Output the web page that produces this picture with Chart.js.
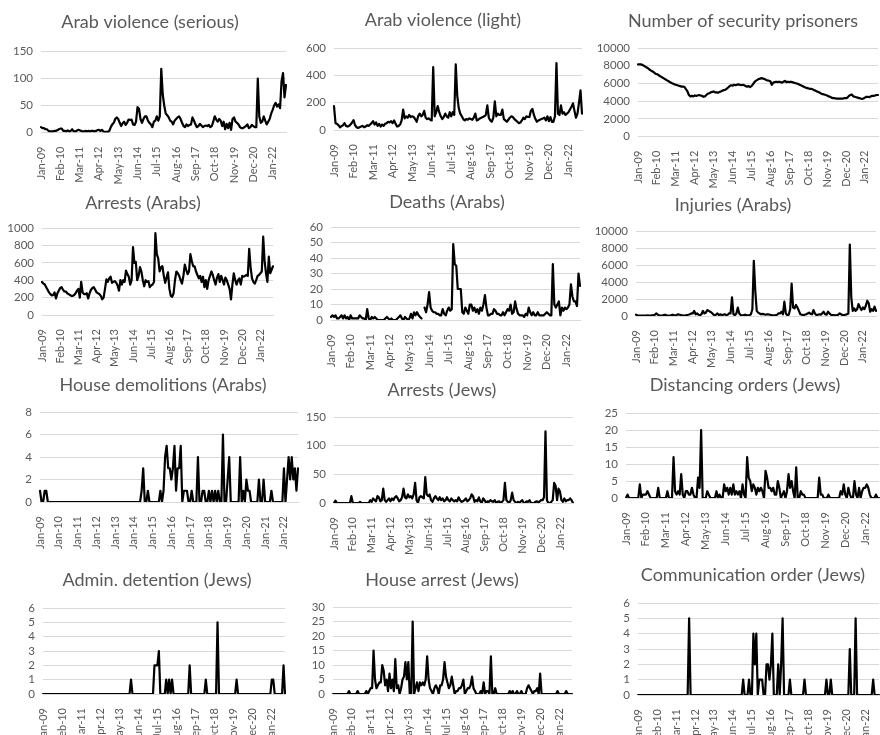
<!DOCTYPE html>
<html>
<head>
<meta charset="utf-8">
<script src="https://cdn.jsdelivr.net/npm/chart.js@4.4.1/dist/chart.umd.min.js"></script>
<style>
  html, body { margin: 0; padding: 0; background: #fff; width: 880px; height: 735px; overflow: hidden; }
  canvas { position: absolute; }
</style>
</head>
<body>
<script>
// Monthly observations, Jan 2009 – Oct 2022
const firstYear = 2009;
const monthCount = 166;
const monthNames = ['Jan','Feb','Mar','Apr','May','Jun','Jul','Aug','Sep','Oct','Nov','Dec'];
const months = [];
for (let i = 0; i < monthCount; i++) {
  const yy = String((firstYear + Math.floor(i / 12)) % 100).padStart(2, '0');
  months.push(monthNames[i % 12] + '-' + yy);
}

const arabViolenceSerious = [
  10,8,8,6,6,3,2,2,2,3,3,4,6,
  7,7,3,3,2,4,2,3,6,2,2,3,5,
  4,3,2,2,3,2,3,2,3,3,2,3,4,
  5,3,5,2,1,1,1,3,10,15,18,25,28,
  25,18,12,17,20,14,18,24,23,24,15,14,20,
  47,44,25,18,25,30,30,22,18,15,10,20,22,
  30,22,30,118,70,50,35,32,28,22,20,15,22,
  25,28,30,25,18,12,10,15,12,14,15,28,22,
  15,10,12,16,13,10,12,13,12,14,10,12,20,
  30,24,20,25,22,12,20,6,16,8,18,5,25,
  28,20,18,15,10,8,8,10,12,15,8,10,14,
  12,10,10,100,30,18,20,30,22,15,20,25,35,
  42,50,55,48,52,45,95,110,65,88
];

const arabViolenceLight = [
  175,50,45,35,20,28,35,50,30,25,30,40,55,
  72,35,20,15,20,25,30,20,25,35,30,40,50,
  65,40,55,30,45,25,40,30,45,50,60,55,65,
  50,70,45,25,30,40,70,150,85,100,90,110,95,
  100,95,80,60,100,120,100,110,140,90,80,85,75,
  70,460,100,130,175,130,100,80,95,120,100,90,130,
  100,130,110,480,250,160,120,100,80,70,80,75,85,
  80,75,90,120,70,75,85,90,95,100,110,180,90,
  70,60,90,210,100,120,110,110,150,80,70,60,75,
  90,100,95,80,70,60,50,55,70,90,80,100,95,
  95,140,155,110,80,60,70,75,80,85,90,70,100,
  65,95,60,60,100,490,120,110,180,120,130,110,120,
  130,150,170,195,140,90,120,200,290,120
];

const securityPrisoners = [
  8150,8150,8150,8100,8000,7900,7800,7700,7550,7450,7350,7250,7100,
  7050,6950,6850,6750,6650,6550,6450,6350,6250,6150,6050,6000,5900,
  5850,5800,5750,5700,5650,5650,5600,5350,5100,4700,4550,4600,4550,
  4650,4600,4650,4700,4650,4600,4500,4550,4700,4850,4900,5000,5050,
  5100,5000,5000,4950,5050,5100,5200,5250,5300,5400,5550,5700,5800,
  5750,5850,5800,5850,5900,5850,5800,5850,5800,5700,5650,5700,5600,
  5700,5900,6150,6300,6400,6500,6550,6600,6550,6500,6400,6350,6300,
  6250,5850,6100,6150,6200,6150,6200,6150,6100,6200,6300,6150,6200,
  6150,6200,6150,6100,6050,6000,5950,5850,5800,5700,5650,5550,5500,
  5450,5400,5400,5350,5250,5200,5100,5050,4950,4850,4800,4750,4700,
  4650,4550,4500,4400,4350,4350,4300,4300,4300,4300,4300,4300,4350,
  4350,4400,4600,4700,4750,4550,4500,4450,4400,4350,4300,4250,4300,
  4400,4500,4500,4450,4550,4600,4600,4650,4700,4700
];

const arrestsArabs = [
  380,360,350,320,290,260,240,225,230,260,190,250,280,
  310,320,290,270,270,250,240,230,220,220,230,250,280,
  300,200,380,260,240,240,250,190,250,290,310,320,290,
  260,250,240,220,180,200,300,410,380,420,440,370,380,
  390,370,340,280,400,350,400,380,510,470,440,350,400,
  780,600,610,400,450,550,500,400,330,400,380,390,320,
  340,350,380,940,700,650,500,550,560,450,370,430,490,
  300,220,210,250,400,500,480,450,400,360,450,580,520,
  470,500,700,620,560,560,500,460,420,450,380,440,320,
  400,300,400,450,500,460,400,350,430,470,380,450,400,
  350,430,400,350,300,180,350,480,400,350,400,420,350,
  450,440,450,460,450,760,550,420,380,360,400,450,460,
  480,500,900,620,480,380,670,480,520,560
];

const deathsArabs = [
  2,3,2,3,1,1,2,3,1,3,1,2,0,
  3,1,1,1,1,1,3,2,1,1,0,7,1,
  0,2,1,2,1,0,0,0,0,0,1,2,1,
  0,1,0,0,0,1,2,3,1,0,2,1,0,
  1,4,1,5,3,5,3,2,1,null,8,5,10,
  18,8,6,5,5,4,4,3,3,7,4,3,6,
  8,6,7,49,36,35,20,20,20,5,4,8,6,
  4,10,10,6,8,5,7,4,8,6,10,16,8,
  3,3,4,4,7,6,4,4,3,3,5,3,5,
  7,6,10,4,5,12,7,4,3,3,3,2,4,
  3,8,5,3,5,3,3,5,3,3,3,3,4,
  5,4,3,3,36,10,8,10,12,3,8,6,8,
  7,8,10,23,15,12,12,9,30,22
];

const injuriesArabs = [
  150,80,60,50,60,50,40,60,80,60,50,80,100,
  150,300,150,80,60,50,100,150,80,50,60,80,150,
  100,80,120,200,150,100,80,60,80,120,150,200,300,
  300,600,200,300,150,100,200,600,300,400,700,600,500,
  400,200,100,150,300,100,200,100,150,200,100,150,300,
  300,2200,200,100,300,1000,300,100,80,100,150,100,80,
  100,200,800,6500,3000,600,400,300,200,250,200,150,200,
  200,150,100,50,80,100,150,300,300,500,200,1700,300,
  100,150,800,3800,1000,900,1300,1000,600,200,150,100,150,
  200,300,400,250,200,700,300,100,150,200,150,300,500,
  200,150,500,300,150,100,100,80,100,150,300,200,100,
  100,150,200,300,8400,2200,600,900,600,800,1400,1000,700,
  1000,800,1200,1800,1500,500,800,600,1100,600
];

const houseDemolitions = [
  1,0,0,1,1,0,0,0,0,0,0,0,0,
  0,0,0,0,0,0,0,0,0,0,0,0,0,
  0,0,0,0,0,0,0,0,0,0,0,0,0,
  0,0,0,0,0,0,0,0,0,0,0,0,0,
  0,0,0,0,0,0,0,0,0,0,0,0,0,
  1,3,0,0,1,0,0,0,0,0,0,0,1,
  0,1,4,5,3,3,2,3,5,1,3,3,5,
  0,1,1,1,0,0,1,0,0,0,4,0,0,
  1,1,0,0,1,0,1,0,1,0,1,0,0,
  6,0,0,2,4,0,0,0,0,0,0,4,0,
  1,0,2,1,1,0,0,0,0,0,2,0,0,
  2,0,0,0,0,1,0,0,0,0,0,0,0,
  3,0,2,4,2,4,2,3,1,3
];

const arrestsJews = [
  0,4,0,0,0,0,0,0,0,0,0,0,12,
  0,0,0,0,0,2,0,0,0,0,0,0,5,
  2,8,5,3,12,10,3,5,25,5,2,5,8,
  3,8,5,10,12,8,3,5,10,25,10,8,15,
  10,12,8,15,35,5,0,10,12,10,8,45,15,
  12,15,5,2,8,12,8,5,10,5,8,3,5,
  10,5,3,8,5,3,5,3,10,5,2,3,5,
  8,3,5,8,15,12,2,5,3,10,3,0,8,
  5,0,3,2,5,3,2,5,0,2,3,0,2,
  5,35,5,2,0,5,18,5,2,0,2,0,3,
  5,0,0,3,2,5,0,0,0,2,3,0,3,
  5,5,10,125,5,0,0,2,5,35,30,5,25,
  20,5,2,8,3,5,5,8,5,0
];

const distancingOrders = [
  0,1,0,0,0,0,0,0,0,4,0,1,1,
  1,2,1,0,0,0,0,0,3,0,0,0,0,
  0,2,0,0,0,12,2,1,2,1,7,1,0,
  2,2,1,1,3,1,0,0,6,3,20,0,0,
  0,2,1,0,0,0,0,2,0,1,0,0,4,
  2,3,1,3,1,4,1,2,1,2,0,4,1,
  0,12,6,5,2,4,3,1,3,2,3,2,0,
  8,6,3,3,2,3,1,1,5,3,0,1,2,
  0,2,7,3,5,2,0,9,0,0,2,1,1,
  0,0,0,0,0,0,0,0,0,6,1,1,0,
  0,0,1,0,0,0,0,0,0,0,2,1,4,
  1,0,3,1,0,0,5,1,0,3,0,2,3,
  3,4,3,1,0,0,0,1,0,0
];

const adminDetention = [
  0,0,0,0,0,0,0,0,0,0,0,0,0,
  0,0,0,0,0,0,0,0,0,0,0,0,0,
  0,0,0,0,0,0,0,0,0,0,0,0,0,
  0,0,0,0,0,0,0,0,0,0,0,0,0,
  0,0,0,0,0,0,0,0,1,0,0,0,0,
  0,0,0,0,0,0,0,0,0,0,0,2,2,
  2,3,0,0,0,0,1,0,1,0,1,0,0,
  0,0,0,0,0,0,0,0,0,2,0,0,0,
  0,0,0,0,0,0,0,1,0,0,0,0,0,
  0,0,5,0,0,0,0,0,0,0,0,0,0,
  0,0,1,0,0,0,0,0,0,0,0,0,0,
  0,0,0,0,0,0,0,0,0,0,0,0,0,
  1,1,0,0,0,0,0,0,2,0
];

const houseArrest = [
  0,0,0,0,0,0,0,0,0,0,0,1,0,
  0,0,0,0,1,0,0,0,0,0,1,0,1,
  2,2,15,5,2,3,4,4,10,8,3,5,1,
  7,2,5,1,12,2,3,0,2,5,6,11,5,
  11,0,0,25,0,2,4,1,4,3,4,3,5,
  13,5,2,1,0,2,3,2,0,3,3,5,11,
  6,4,2,3,6,3,0,1,1,2,2,3,5,
  0,1,2,2,3,6,2,1,0,0,0,1,0,
  4,0,1,1,0,13,0,0,2,0,0,0,0,
  0,0,0,0,0,1,0,1,0,0,1,0,0,
  1,0,0,0,2,3,2,1,0,1,1,2,0,
  7,0,0,0,0,0,0,0,0,0,0,0,1,
  0,0,0,0,0,1,0,0,0,0
];

const communicationOrder = [
  0,0,0,0,0,0,0,0,0,0,0,0,0,
  0,0,0,0,0,0,0,0,0,0,0,0,0,
  0,0,0,0,0,0,0,0,0,5,0,0,0,
  0,0,0,0,0,0,0,0,0,0,0,0,0,
  0,0,0,0,0,0,0,0,0,0,0,0,0,
  0,0,0,0,0,0,0,1,0,0,0,1,0,
  0,4,2,4,0,1,1,1,0,0,2,2,1,
  2,4,0,0,0,2,0,2,5,0,0,0,0,
  1,0,0,0,0,0,0,0,0,0,1,0,0,
  0,0,0,0,0,0,0,0,0,0,0,0,1,
  0,0,1,0,0,0,0,0,0,0,0,0,0,
  0,0,3,0,0,0,5,0,0,0,0,0,0,
  0,0,0,0,0,1,0,0,0,0
];

const FONT = 'Lato, "Open Sans", "DejaVu Sans", sans-serif';
const TEXT = '#595959';
const GRID = '#d9d9d9';
const TITLE_SIZE = 18;

// Panel layout: title centre (tc, ty) and plot box (L, R, top, bottom), page pixels
const panels = [
  { title: 'Arab violence (serious)',     data: arabViolenceSerious, max: 150,   step: 50,   every: 13, tc: 150, ty: 22,  L: 41,  R: 286, top: 51.5, bottom: 132.5 },
  { title: 'Arab violence (light)',       data: arabViolenceLight,   max: 600,   step: 200,  every: 13, tc: 443, ty: 20,  L: 334, R: 582, top: 48,   bottom: 130 },
  { title: 'Number of security prisoners',data: securityPrisoners,   max: 10000, step: 2000, every: 13, tc: 743, ty: 21,  L: 638, R: 878, top: 48,   bottom: 136.7 },
  { title: 'Arrests (Arabs)',             data: arrestsArabs,        max: 1000,  step: 200,  every: 13, tc: 143, ty: 203, L: 42,  R: 273, top: 228,  bottom: 315 },
  { title: 'Deaths (Arabs)',              data: deathsArabs,         max: 60,    step: 10,   every: 13, tc: 447, ty: 202, L: 331, R: 580, top: 227,  bottom: 320 },
  { title: 'Injuries (Arabs)',            data: injuriesArabs,       max: 10000, step: 2000, every: 13, tc: 733, ty: 205, L: 636, R: 876, top: 231,  bottom: 316 },
  { title: 'House demolitions (Arabs)',   data: houseDemolitions,    max: 8,     step: 2,    every: 12, tc: 163, ty: 385, L: 40,  R: 298, top: 412,  bottom: 502 },
  { title: 'Arrests (Jews)',              data: arrestsJews,         max: 150,   step: 50,   every: 13, tc: 442, ty: 390, L: 334, R: 573, top: 417,  bottom: 503 },
  { title: 'Distancing orders (Jews)',    data: distancingOrders,    max: 25,    step: 5,    every: 13, tc: 745, ty: 385, L: 626, R: 879, top: 413,  bottom: 498 },
  { title: 'Admin. detention (Jews)',     data: adminDetention,      max: 6,     step: 1,    every: 13, tc: 157, ty: 580, L: 43,  R: 285, top: 608,  bottom: 694 },
  { title: 'House arrest (Jews)',         data: houseArrest,         max: 30,    step: 5,    every: 13, tc: 442, ty: 580, L: 333, R: 572, top: 607,  bottom: 694 },
  { title: 'Communication order (Jews)',  data: communicationOrder,  max: 6,     step: 1,    every: 13, tc: 753, ty: 575, L: 638, R: 879, top: 603,  bottom: 695 }
];

// Draws each panel's heading at a fixed spot above its plot
const panelTitle = {
  id: 'panelTitle',
  afterDraw(chart, args, opts) {
    const ctx = chart.ctx;
    ctx.save();
    ctx.fillStyle = TEXT;
    ctx.font = TITLE_SIZE + 'px ' + FONT;
    ctx.textAlign = 'center';
    ctx.textBaseline = 'middle';
    ctx.fillText(opts.text, opts.x, opts.y);
    ctx.restore();
  }
};

function makePanel(p) {
  const CL = p.L - 46;
  const CW = Math.round(p.R - CL + 8);
  const T = Math.round(Math.min(p.top - 10, p.ty - 14));
  const H = Math.round(p.bottom + 52 - T);
  const yW = p.L - CL;
  const xH = T + H - p.bottom;

  const c = document.createElement('canvas');
  c.width = CW; c.height = H;
  c.style.left = CL + 'px'; c.style.top = T + 'px';
  document.body.appendChild(c);

  new Chart(c, {
    type: 'line',
    data: {
      labels: months,
      datasets: [{
        data: p.data, borderColor: '#000', borderWidth: 2.2,
        borderJoinStyle: 'round', borderCapStyle: 'round',
        pointRadius: 0, tension: 0, spanGaps: false
      }]
    },
    plugins: [panelTitle],
    options: {
      responsive: false, animation: false, devicePixelRatio: 1,
      layout: { padding: { left: 0, right: CW - (p.R - CL), top: p.top - T, bottom: 0 } },
      plugins: {
        legend: { display: false }, tooltip: { enabled: false }, title: { display: false },
        panelTitle: { text: p.title, x: p.tc - CL, y: p.ty - T }
      },
      scales: {
        x: {
          grid: { display: false },
          border: { display: true, color: GRID, width: 1 },
          ticks: {
            autoSkip: false, minRotation: 90, maxRotation: 90, padding: 6, color: TEXT,
            font: { family: FONT, size: 11 },
            callback: (v, i) => (i % p.every === 0 ? months[i] : null)
          },
          afterFit: s => { s.height = xH; }
        },
        y: {
          min: 0, max: p.max,
          grid: { color: GRID, lineWidth: 1, drawTicks: false },
          border: { display: false },
          ticks: { stepSize: p.step, autoSkip: false, padding: 8, color: TEXT, font: { family: FONT, size: 11.5 }, callback: v => String(v) },
          afterFit: s => { s.width = yW; }
        }
      }
    }
  });
}

panels.forEach(makePanel);
</script>
</body>
</html>
